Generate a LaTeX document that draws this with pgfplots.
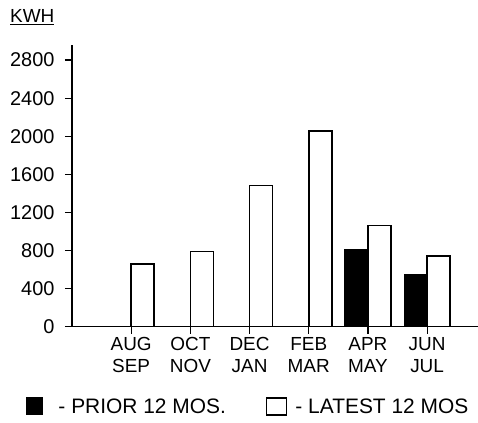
\documentclass[border=0pt]{standalone}
\usepackage{fontspec}
\setmainfont{Liberation Sans}
\usepackage{pgfplots}
\pgfplotsset{compat=1.18}
\pgfplotsset{
  narrowsq/.style={legend image code/.code={\draw[##1] (0bp,-8bp) rectangle (16bp,9bp);}},
  widesq/.style={legend image code/.code={\draw[##1] (0bp,-8bp) rectangle (20bp,9bp);}},
}
\begin{document}
\begin{tikzpicture}
\useasboundingbox (-72bp,-96.3bp) rectangle (406bp,326.7bp);
\begin{axis}[
  at={(0,0)}, anchor=south west,
  scale only axis,
  width=406bp, height=281.6bp,
  xmin=-1.0, xmax=5.86,
  ymin=0, ymax=2957,
  axis x line=bottom, axis y line=left,
  axis line style={-, line width=1.6pt},
  ybar=0pt, bar width=0.39,
  xtick={0,1,2,3,4,5},
  xticklabels={{AUG\\SEP},{OCT\\NOV},{DEC\\JAN},{FEB\\MAR},{APR\\MAY},{JUN\\JUL}},
  xticklabel style={align=center, font=\fontsize{19}{22}\selectfont},
  ytick={0,400,800,1200,1600,2000,2400,2800},
  yticklabel style={font=\fontsize{20}{22}\selectfont, xshift=-7bp},
  /pgf/number format/assume math mode=true,
  /pgf/number format/1000 sep={},
  tick align=outside,
  major tick length=7bp,
  tick style={line width=1.2pt, black},
  legend style={at={(-0.115,-0.285)}, anchor=west, draw=none, fill=none,
     inner sep=0pt,
     font=\fontsize{21}{23}\selectfont, legend columns=2,
     /tikz/every even column/.append style={column sep=38bp}},
]
\addplot[fill=black, draw=black, line width=1pt, narrowsq] coordinates {(4,815) (5,552)};
\addlegendentry{\hspace*{14bp}-\ PRIOR 12 MOS.}
\addplot[fill=white, draw=black, line width=1.6pt, widesq]
  coordinates {(0,660) (1,790) (2,1484) (3,2055) (4,1063) (5,744)};
\addlegendentry{\hspace*{6bp}-\ LATEST 12 MOS}
\end{axis}
\node[anchor=base west, inner sep=0pt, font=\fontsize{19}{21}\selectfont] at (-62bp,304bp) {\underline{KWH}};
\end{tikzpicture}
\end{document}
